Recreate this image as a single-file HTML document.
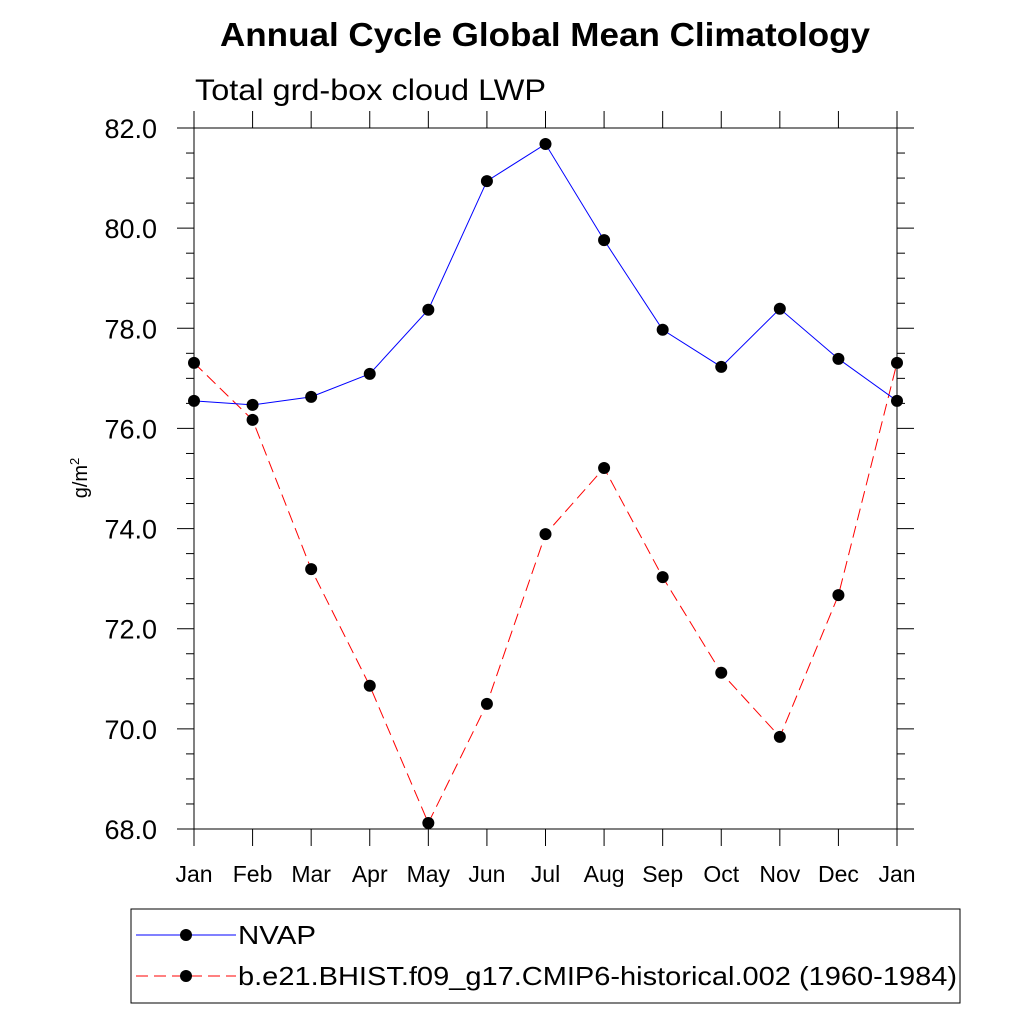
<!DOCTYPE html>
<html><head><meta charset="utf-8"><style>
body{margin:0;background:#fff;}
svg text{font-family:"Liberation Sans",sans-serif;}
</style></head><body>
<svg id="chart" width="1024" height="1024" xmlns="http://www.w3.org/2000/svg">
<text x="220" y="46" font-size="33" font-weight="bold" textLength="650" lengthAdjust="spacingAndGlyphs">Annual Cycle Global Mean Climatology</text>
<text x="195" y="100" font-size="30" textLength="351" lengthAdjust="spacingAndGlyphs">Total grd-box cloud LWP</text>
<text transform="translate(87,478) rotate(-90)" text-anchor="middle" font-size="20">g/m<tspan dy="-8" font-size="13">2</tspan></text>
<g id="axes"></g>
<g id="series"></g>
<g>
<rect x="131" y="909" width="829" height="94" fill="#fff" stroke="#000" stroke-width="1"/>
<line x1="136" y1="935" x2="236" y2="935" stroke="#00f" stroke-width="1"/>
<circle cx="186" cy="935" r="6" fill="#000"/>
<text x="238" y="944" font-size="26" textLength="78" lengthAdjust="spacingAndGlyphs">NVAP</text>
<line x1="136" y1="976" x2="236" y2="976" stroke="#f00" stroke-width="1" stroke-dasharray="12,6"/>
<circle cx="186" cy="976" r="6" fill="#000"/>
<text x="238" y="985" font-size="26" textLength="719" lengthAdjust="spacingAndGlyphs">b.e21.BHIST.f09_g17.CMIP6-historical.002 (1960-1984)</text>
</g>
</svg>
<script>
const months=["Jan","Feb","Mar","Apr","May","Jun","Jul","Aug","Sep","Oct","Nov","Dec","Jan"];
const yTicks=[68,70,72,74,76,78,80,82];
const nvap=[76.55,76.47,76.63,77.09,78.37,80.94,81.68,79.76,77.97,77.23,78.39,77.39,76.55];
const model=[77.31,76.17,73.19,70.86,68.12,70.50,73.89,75.21,73.03,71.12,69.84,72.67,77.31];
const NS="http://www.w3.org/2000/svg";
const L=194,R=897,T=128,B=829,step=(R-L)/12;
const xs=i=>L+i*step;
const ys=v=>B-(v-68)/14*(B-T);
function mk(t,a,p){const e=document.createElementNS(NS,t);for(const k in a)e.setAttribute(k,a[k]);p.appendChild(e);return e;}
const ax=document.getElementById('axes');
const box=mk('rect',{x:L,y:T,width:R-L,height:B-T,fill:'none',stroke:'#000','stroke-width':1},ax);


for(let v=68;v<=82.001;v+=0.5){
  const y=ys(v),maj=Math.abs(v-Math.round(v/2)*2)<1e-6,len=maj?17:8;
  mk('line',{x1:L,y1:y,x2:L-len,y2:y,stroke:'#000'},ax);
  mk('line',{x1:R,y1:y,x2:R+len,y2:y,stroke:'#000'},ax);
}
yTicks.forEach(v=>{
  const t=mk('text',{x:157,y:ys(v)+10,'text-anchor':'end','font-size':27},ax);
  
  
  t.textContent=v.toFixed(1);
});
months.forEach((m,i)=>{
  const x=xs(i);
  mk('line',{x1:x,y1:B,x2:x,y2:B+17,stroke:'#000'},ax);
  mk('line',{x1:x,y1:T,x2:x,y2:T-17,stroke:'#000'},ax);
  const t=mk('text',{x:x,y:882,'text-anchor':'middle','font-size':23},ax);
  
  
  t.textContent=m;
});
const sg=document.getElementById('series');
function draw(vals,color,dash,name){
  const pts=vals.map((v,i)=>xs(i)+','+ys(v)).join(' ');
  const pl=mk('polyline',{points:pts,fill:'none',stroke:color,'stroke-width':1,'stroke-dasharray':dash},sg);
  
  
  vals.forEach((v,i)=>{
    const c=mk('circle',{cx:xs(i),cy:ys(v),r:6,fill:'#000'},sg);
    
    
  });
}
draw(model,'#f00','12,6','model');
draw(nvap,'#00f','none','nvap');
</script>
</body></html>
